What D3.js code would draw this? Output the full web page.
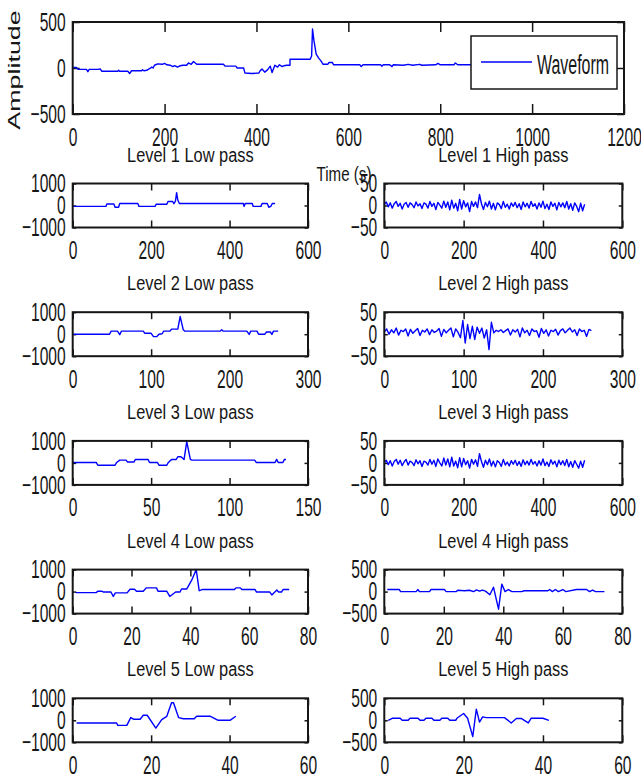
<!DOCTYPE html>
<html>
<head>
<meta charset="utf-8">
<script src="https://cdn.jsdelivr.net/npm/d3@7"></script>
<style>
  html, body { margin: 0; padding: 0; background: #fff; }
  svg { display: block; font-family: "Liberation Sans", Arial, sans-serif; }
</style>
</head>
<body>
<script>
// ---- data ----
// original waveform: [time, amplitude] vertices
const waveform = [[0,5],[8,5],[12,-15],[30,-15],[33,-40],[36,-15],[55,-15],[60,-10],[63,-35],[98,-35],[100,-25],[102,-35],[120,-35],[124,-60],[128,-30],[150,-30],[152,-20],[155,-30],[161,-25],[168,-5],[172,10],[175,0],[178,30],[185,45],[195,40],[200,50],[205,35],[212,30],[218,15],[222,25],[228,10],[234,25],[240,30],[248,30],[252,55],[258,40],[263,70],[270,40],[300,40],[328,40],[332,20],[355,20],[358,0],[372,0],[375,-55],[390,-60],[405,-55],[408,-30],[412,-10],[418,-45],[424,-20],[430,20],[434,-50],[440,30],[446,10],[450,35],[456,15],[460,25],[466,30],[473,30],[473,95],[517,95],[520,130],[522,424],[525,300],[530,150],[535,110],[540,80],[545,40],[555,40],[558,60],[565,60],[568,35],[625,35],[628,15],[632,35],[670,35],[673,20],[676,35],[690,35],[695,15],[698,35],[720,30],[730,40],[740,30],[755,40],[760,30],[790,35],[795,50],[800,35],[830,35],[833,55],[838,35],[870,35],[873,50],[877,35],[900,35],[950,35],[1000,30],[1030,30]];

// approximation (low pass) coefficients: [sample, value]
const low1 = [[0,-40],[85,-40],[87,67],[105,67],[108,-80],[117,-80],[120,90],[166,90],[169,-40],[210,-40],[213,60],[240,60],[243,180],[255,180],[258,80],[262,200],[265,582],[268,250],[272,90],[435,90],[437,-40],[440,90],[458,90],[460,-40],[480,-40],[483,90],[496,90],[500,-80],[505,-40],[509,90],[516,90]];
const low2 = [[0,0],[47,0],[49,138],[57,138],[60,-20],[62,138],[90,138],[92,40],[100,40],[103,-111],[107,-111],[110,0],[114,20],[116,138],[124,138],[126,230],[134,230],[137,804],[141,200],[143,138],[188,138],[190,200],[192,138],[222,138],[225,-10],[227,138],[235,138],[237,0],[245,0],[247,100],[252,100],[254,-10],[256,138],[262,138]];
const low3 = [[0,20],[15,20],[16,-106],[27,-106],[28,20],[30,125],[34,125],[35,40],[39,40],[40,157],[48,157],[49,20],[54,20],[55,-106],[60,-106],[61,20],[63,157],[66,157],[67,280],[69,280],[71,157],[72.7,970],[75,157],[76,125],[116,125],[117,20],[129,20],[130,157],[131,20],[134,20],[135,157],[136,157]];
const low4 = [[1,-47],[8,-47],[8.5,14],[10,14],[10.5,-20],[13,-20],[13.8,-220],[14.5,-60],[18.5,-60],[19.5,108],[21,108],[21.7,14],[24,14],[25,170],[28.5,170],[29,14],[32,14],[33,-220],[35,-20],[36.5,-20],[37,120],[38.8,120],[40.5,530],[42,1000],[43,40],[44,94],[55,94],[55.5,170],[57,170],[57.5,94],[62,94],[62.5,-20],[67,-20],[67.7,-150],[69.4,70],[70,-20],[71,-20],[71.5,94],[73.6,94]];
const low5 = [[1,-123],[11.2,-123],[11.5,-230],[13.8,-230],[14.8,123],[15.5,50],[17.2,50],[18,230],[19,230],[21.2,-355],[22.7,30],[24,180],[25.2,800],[25.7,800],[27,123],[28.2,70],[31,70],[31.6,185],[35,185],[37.1,0],[40.1,0],[41.6,185]];

// detail (high pass) coefficients, sampled every hpStep samples
const hp1Step = 5;
const hp1 = [2,8,-3,6,-6,4,9,-2,5,-8,3,7,-4,6,2,-5,8,-1,4,-7,6,3,-6,9,-2,5,-9,7,1,-6,10,-4,8,-10,12,-6,5,-12,14,-8,11,-3,6,-14,9,-2,8,-5,25,4,-9,7,-3,10,-8,5,-10,6,2,-7,9,-4,3,-8,6,-2,7,-5,4,-9,8,-3,5,-6,9,-2,4,-8,6,-4,10,-7,3,-9,8,-2,5,-10,7,-3,6,-5,9,-8,4,-11,6,-2,-14,5,-12,3];
const hp2Step = 3;
const hp2 = [5,12,0,10,3,14,-2,9,6,12,-4,11,2,8,13,-3,9,5,12,-1,10,4,7,13,-5,11,3,9,14,-6,12,4,
  -8,31,-20,22,-10,
  18,-12,16,2,14,-9,10,
  -35,27,
  3,9,6,10,4,8,12,-2,10,5,11,-6,14,3,9,-3,12,6,8,-7,13,2,10,-4,9,6,11,-2,8,12,3,9,14,5,10,-3,12,6,9,-5,11,8];
const hp3Step = 5;
const hp3 = [1,6,-4,5,-7,3,8,-3,6,-6,2,8,-5,4,1,-6,7,-2,5,-8,4,2,-5,8,-3,6,-8,9,0,-7,11,-5,9,-9,13,-7,4,-11,12,-9,10,-4,5,-12,8,-3,7,-8,21,3,-10,6,-4,9,-7,4,-9,5,1,-8,8,-5,2,-7,5,-3,6,-6,3,-8,7,-4,4,-5,8,-3,3,-7,5,-5,9,-6,2,-8,7,-3,4,-9,6,-4,5,-6,8,-9,3,-10,5,-3,-12,4,-10,6];
const hp4 = [[1,47],[5,47],[5.5,0],[10.7,0],[11.3,47],[11.8,0],[15.2,0],[15.7,47],[20.2,47],[20.8,0],[24.1,0],[24.7,30],[27,20],[28.6,30],[30,0],[31,40],[32,10],[33,35],[34,10],[35.5,-70],[36.7,100],[38.4,-400],[39.5,170],[40.6,0],[41.7,47],[42.9,0],[46.2,0],[47,20],[55,20],[55.6,47],[56.5,0],[57.5,47],[58.5,0],[60,47],[61,0],[64.6,47],[68,47],[69,0],[70,35],[71,0],[74,0]];
const hp5 = [[1,0],[2,46],[4,46],[4.5,0],[6,0],[6.5,46],[8.5,46],[9,0],[10,0],[10.5,46],[12,46],[12.5,0],[14,0],[14.5,46],[16,46],[16.5,0],[18,0],[18.3,46],[20,154],[21,46],[22.3,-370],[23.2,254],[24,-40],[24.8,77],[25.7,60],[30.3,60],[32,-60],[33.3,40],[34.6,40],[36.3,-60],[37,46],[40,46],[41.5,0]];

const lowTitles = ["Level 1 Low pass","Level 2 Low pass","Level 3 Low pass","Level 4 Low pass","Level 5 Low pass"];
const highTitles = ["Level 1 High pass","Level 2 High pass","Level 3 High pass","Level 4 High pass","Level 5 High pass"];
const lowXMax = [600, 300, 150, 80, 60];
const highXMax = [600, 300, 600, 80, 60];
const lowXTicks = [[0,200,400,600],[0,100,200,300],[0,50,100,150],[0,20,40,60,80],[0,20,40,60]];
const highXTicks = [[0,200,400,600],[0,100,200,300],[0,200,400,600],[0,20,40,60,80],[0,20,40,60]];
const highYMax = [50, 50, 50, 500, 500];

const stepped = (vals, step) => vals.map((v, i) => [i * step, v]);
const lowData = [low1, low2, low3, low4, low5];
const highData = [stepped(hp1, hp1Step), stepped(hp2, hp2Step), stepped(hp3, hp3Step), hp4, hp5];

// ---- layout ----
const W = 641, H = 780;
const TICK_FS = 26, TICK_SX = 0.6;
const INK = "#161616";
const fmt = d3.format("d");

const svg = d3.select("body").append("svg")
  .attr("width", W).attr("height", H);

function squeezeText(sel, fs, sx) {
  sel.attr("font-size", fs).attr("fill", INK)
    .attr("transform", function() {
      const x = +this.getAttribute("x") || 0;
      this.setAttribute("x", 0);
      return "translate(" + x + ",0) scale(" + sx + ",1)";
    });
}

function drawPanel(p) {
  const g = svg.append("g");
  const x = d3.scaleLinear().domain(p.xDomain).range([p.x0, p.x1]);
  const y = d3.scaleLinear().domain(p.yDomain).range([p.y1, p.y0]);

  const bottom = g.append("g").attr("transform", "translate(0," + p.y1 + ")")
    .call(d3.axisBottom(x).tickValues(p.xTicks).tickFormat(fmt).tickSize(-p.xTick).tickPadding(p.xPad || 13));
  const top = g.append("g").attr("transform", "translate(0," + p.y0 + ")")
    .call(d3.axisTop(x).tickValues(p.xTicks).tickSize(-p.xTick).tickFormat(""));
  const left = g.append("g").attr("transform", "translate(" + p.x0 + ",0)")
    .call(d3.axisLeft(y).tickValues(p.yTicks).tickFormat(fmt).tickSize(-p.yTick).tickPadding(7));
  const right = g.append("g").attr("transform", "translate(" + p.x1 + ",0)")
    .call(d3.axisRight(y).tickValues(p.yTicks).tickSize(-p.yTick).tickFormat(""));

  [bottom, top, left, right].forEach(a => {
    a.select(".domain").remove();
    a.attr("color", INK);
    a.selectAll("line").attr("stroke-width", 1.5);
  });
  squeezeText(bottom.selectAll("text"), TICK_FS, TICK_SX);
  squeezeText(left.selectAll("text"), TICK_FS, TICK_SX);

  const line = d3.line().x(d => x(d[0])).y(d => y(d[1]));
  g.append("path").datum(p.data)
    .attr("d", line)
    .attr("fill", "none")
    .attr("stroke", "#0000ff")
    .attr("stroke-width", 1.4)
    .attr("stroke-linejoin", "round");

  g.append("rect")
    .attr("x", p.x0).attr("y", p.y0)
    .attr("width", p.x1 - p.x0).attr("height", p.y1 - p.y0)
    .attr("fill", "none").attr("stroke", INK).attr("stroke-width", 2);

  if (p.title) {
    svg.append("text")
      .attr("text-anchor", "middle")
      .attr("font-size", 21).attr("fill", INK)
      .attr("transform", "translate(" + (p.x0 + p.x1) / 2 + "," + (p.y0 - 22) + ") scale(0.78,1)")
      .text(p.title);
  }
  return { g, x, y };
}

// top waveform plot
drawPanel({
  x0: 72.7, x1: 624, y0: 22, y1: 114,
  xDomain: [0, 1200], xTicks: [0,200,400,600,800,1000,1200],
  yDomain: [-500, 500], yTicks: [-500, 0, 500],
  xTick: 10, yTick: 7, xPad: 14,
  data: waveform
});

// legend
const leg = svg.append("g");
leg.append("rect").attr("x", 471).attr("y", 36).attr("width", 146).attr("height", 53)
  .attr("fill", "#fff").attr("stroke", INK).attr("stroke-width", 1.5);
leg.append("line").attr("x1", 481).attr("x2", 532).attr("y1", 62).attr("y2", 62)
  .attr("stroke", "#0000ff").attr("stroke-width", 1.4);
leg.append("text").text("Waveform")
  .attr("font-size", 28).attr("fill", INK)
  .attr("transform", "translate(537,74) scale(0.57,1)");

// axis labels of the top plot
svg.append("text").text("Amplitude")
  .attr("text-anchor", "middle").attr("font-size", 16).attr("fill", INK)
  .attr("transform", "translate(19.5,70) rotate(-90) scale(1.68,1)");
svg.append("text").text("Time (s)")
  .attr("text-anchor", "middle").attr("font-size", 21).attr("fill", INK)
  .attr("transform", "translate(344,181) scale(0.72,1)");

// decomposition levels
const rowTop0 = 183.5, rowGap = 128.7, rowH = 44;
lowTitles.forEach((t, i) => {
  const y0 = rowTop0 + i * rowGap;
  drawPanel({
    x0: 72.7, x1: 308, y0: y0, y1: y0 + rowH,
    xDomain: [0, lowXMax[i]], xTicks: lowXTicks[i],
    yDomain: [-1000, 1000], yTicks: [-1000, 0, 1000],
    xTick: 7, yTick: 3.5,
    data: lowData[i], title: t
  });
  drawPanel({
    x0: 384.3, x1: 622.3, y0: y0, y1: y0 + rowH,
    xDomain: [0, highXMax[i]], xTicks: highXTicks[i],
    yDomain: [-highYMax[i], highYMax[i]], yTicks: [-highYMax[i], 0, highYMax[i]],
    xTick: 7, yTick: 3.5,
    data: highData[i], title: highTitles[i]
  });
});
</script>
</body>
</html>
